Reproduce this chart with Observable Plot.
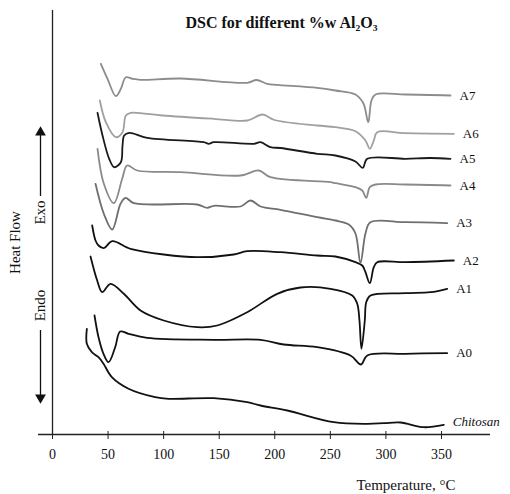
<!DOCTYPE html>
<html><head><meta charset="utf-8">
<script src="https://cdn.jsdelivr.net/npm/d3@7"></script>
<script src="https://cdn.jsdelivr.net/npm/@observablehq/plot@0.6"></script>
<style>body{margin:0;background:#fff} #chart svg{display:block}</style>
</head><body><div id="chart"></div>
<script>
// Temperature (°C), heat flow (arbitrary units, exo up)
const chitosan = [[30.9,105.7],[30.9,90.7],[35.4,82.3],[41.4,77.3],[45.9,70.7],[53.4,57.3],[68.4,45.7],[92.4,37.3],[104.4,35.7],[145.1,36.3],[175.2,32.3],[187.2,29],[211.2,24],[253.1,12.3],[283.2,10.7],[298.1,11.3],[313.1,12],[334.1,7.3],[352.1,9.7]];
const a0 = [[37.8,119],[41.4,97.3],[45.9,80.7],[50.4,72.3],[56.4,87.3],[60.9,103],[68.4,100.7],[85.2,96.7],[145.1,94.7],[187.2,94.7],[208.1,90],[238.2,87.3],[268.1,79],[277.6,70],[283.2,79],[317.6,80.7],[355.1,81.3]];
const a1 = [[34.2,178],[40.2,154],[44.7,142.3],[52.2,150.7],[64.2,140.7],[79.2,124],[100.1,114],[130.2,107.3],[148.2,109],[175.2,122.3],[202.2,140.7],[223.1,147],[250.1,145.7],[269.7,139],[274.2,130.7],[276.2,114],[278.0,85.7],[281.0,114],[282.3,132.3],[286.1,139],[317.6,141.3],[340.1,142.3],[355.1,145.7]];
const a2 = [[35.7,209],[38.7,194],[41.4,189],[46.2,186.3],[53.7,193.3],[70.2,185.7],[100.1,180],[130.2,177.3],[163.1,180],[175.2,183.3],[205.1,182.3],[238.2,179],[254.6,178],[272.6,172.3],[278.7,169],[281.6,162.3],[285.5,151.3],[289.1,167.3],[292.2,172.3],[317.6,172.3],[361.1,174]];
const a3 = [[38.7,250.7],[46.2,220.7],[53.7,205],[61.2,230.7],[65.7,236.7],[73.2,231.3],[130.2,230],[139.2,226.7],[145.1,228.7],[169.2,228],[178.2,234],[187.2,228],[205.1,224.7],[238.2,217.3],[254.6,214],[266.6,210],[272.6,201],[277.1,171.3],[281.6,201],[286.1,212.3],[317.6,212.3],[355.1,211.3]];
const a4 = [[40.5,285.7],[46.2,250.7],[55.2,231.3],[62.7,255.7],[67.2,269],[76.2,264],[115.2,262.3],[169.2,259],[185.6,264],[196.1,257.3],[250.1,252.3],[254.6,251.3],[272.6,247.3],[278.7,244],[282.3,236.7],[285.5,247.3],[290.6,250],[317.6,250],[358.1,249]];
const a5 = [[40.5,321.7],[45.0,299],[51.0,275.7],[55.5,267.3],[61.5,272.3],[63.0,289],[64.5,299],[69.0,301.7],[85.2,296.7],[136.1,292.3],[140.6,290.7],[145.1,292.3],[181.1,290.7],[187.2,292.3],[196.1,287.3],[205.1,286.5],[238.2,280.7],[254.6,279],[272.6,273],[279.2,266.7],[283.2,275.7],[317.6,275.7],[340.1,276.5],[358.1,275.7]];
const a6 = [[42.6,334],[48.0,312.3],[57.0,297.3],[63.0,302.3],[66.0,319],[70.5,321.7],[79.2,321.3],[99.0,319],[145.1,315.7],[175.2,314],[189.0,320],[199.7,314.5],[238.2,309],[254.6,307.3],[272.6,303.3],[281.6,294],[285.5,285.7],[289.1,294],[292.2,302.3],[317.6,301.3],[361.1,300.7]];
const a7 = [[43.5,370.7],[49.5,355.7],[57.0,338.3],[61.5,345.7],[66.0,357.3],[72.0,355.7],[79.2,354.7],[115.2,356],[175.2,351.7],[183.6,354.5],[193.2,350.7],[202.2,349.7],[238.2,346.7],[254.6,344],[272.6,340],[279.8,331],[284.1,312.3],[287.0,334],[290.6,340],[317.6,340],[358.1,339]];

const seriesNames = ["Chitosan","A0","A1","A2","A3","A4","A5","A6","A7"];
const seriesValues = [chitosan,a0,a1,a2,a3,a4,a5,a6,a7];
const seriesColors = ["#111","#111","#111","#111","#6f6f6f","#8a8a8a","#1a1a1a","#a0a0a0","#8c8c8c"];
const xTicks = [0,50,100,150,200,250,300,350];
const title = "DSC for different %w Al₂O₃";
const xLabel = "Temperature, °C";
const yLabel = "Heat Flow";
const exoLabel = "Exo";
const endoLabel = "Endo";

const rows = seriesNames.flatMap((name,i) => seriesValues[i].map(([t,h]) => ({series:name, t, h})));
const serif = '"Liberation Serif","Times New Roman",serif';
const xd = [-12.6, 394.1];

const plot = Plot.plot({
  width: 510, height: 494,
  marginLeft: 38, marginRight: 20, marginTop: 10, marginBottom: 60,
  style: {fontFamily: serif, background: "#fff", overflow: "visible", color: "#111"},
  x: {domain: xd},
  y: {domain: [0, 424], axis: null},
  color: {domain: seriesNames, range: seriesColors},
  marks: [
    Plot.ruleY([0], {stroke: "#222", strokeWidth: 1.3}),
    Plot.ruleX([0], {y1: 0, y2: 424, stroke: "#222", strokeWidth: 1.3}),
    Plot.axisX(xTicks, {tickSize: 5, tickPadding: 10, fontSize: 14, label: null, stroke: "#222"}),
    Plot.ruleX(xTicks, {y1: 0, y2: 3, stroke: "#222"}),
    Plot.line(rows, {x: "t", y: "h", z: "series", stroke: "series", strokeWidth: 1.8, curve: "catmull-rom"}),
    Plot.text(rows.filter(d => d.series !== "Chitosan"), Plot.selectLast({x: "t", y: "h", z: "series", text: "series", dx: 9, textAnchor: "start", fontSize: 13, fill: "#111"})),
    Plot.text(rows.filter(d => d.series === "Chitosan"), Plot.selectLast({x: "t", y: "h", z: "series", text: "series", dx: 9, dy: -3, textAnchor: "start", fontSize: 13, fontStyle: "italic", fill: "#111"})),
    Plot.text([title], {frameAnchor: "top", lineAnchor: "middle", dx: 17, dy: 12, fontSize: 16, fontWeight: "bold", fill: "#111"}),
    Plot.text([xLabel], {frameAnchor: "bottom-right", lineAnchor: "middle", textAnchor: "end", dx: -35, dy: 51, fontSize: 15, fill: "#111"}),
    Plot.text([yLabel], {x: -33.3, y: 192, rotate: -90, fontSize: 15, fill: "#111"}),
    Plot.text([exoLabel], {x: -10.8, y: 222, rotate: -90, fontSize: 15, fill: "#111"}),
    Plot.text([endoLabel], {x: -10.8, y: 129, rotate: -90, fontSize: 15, fill: "#111"}),
    Plot.ruleX([-10.8], {y1: 238, y2: 303, stroke: "#111", strokeWidth: 1.3}),
    Plot.ruleX([-10.8], {y1: 104, y2: 38, stroke: "#111", strokeWidth: 1.3}),
    Plot.dot([[-10.8, 302]], {x: d => d[0], y: d => d[1], symbol: "triangle", r: 4, fill: "#111", stroke: null}),
    Plot.dot([[-10.8, 37]], {x: d => d[0], y: d => d[1], symbol: "triangle", r: 4, rotate: 180, fill: "#111", stroke: null})
  ]
});
document.getElementById("chart").append(plot);
</script>
</body></html>
